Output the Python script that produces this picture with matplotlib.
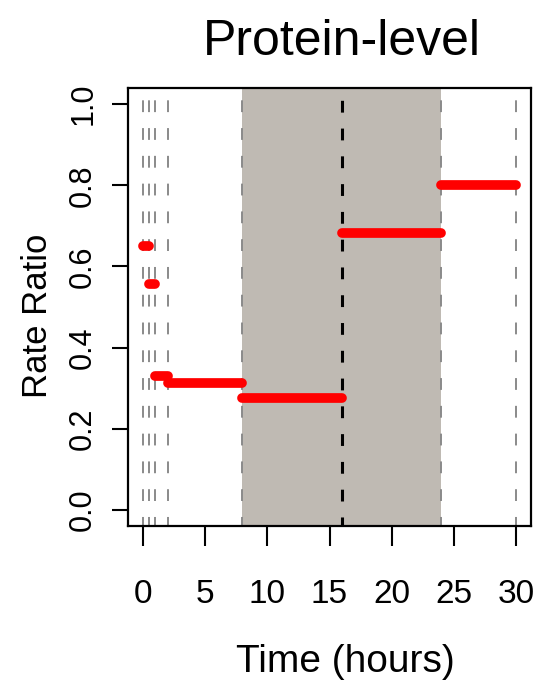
import matplotlib
matplotlib.use("Agg")
import matplotlib.pyplot as plt

# Intervalos de tiempo (horas) y cociente de tasas en cada uno
seg_inicio = [0, 0.5, 1, 2, 8, 16, 24]
seg_fin = [0.5, 1, 2, 8, 16, 24, 30]
ratio = [0.651, 0.557, 0.331, 0.312, 0.275, 0.683, 0.800]

# Lineas verticales de referencia y zona sombreada
cortes_gris = [0, 0.5, 1, 2, 8, 24, 30]
corte_negro = 16
sombra = (8, 24)

x_ticks = [0, 5, 10, 15, 20, 25, 30]
y_ticks = [0.0, 0.2, 0.4, 0.6, 0.8, 1.0]

plt.rcParams['lines.scale_dashes'] = False
fuente = ['Liberation Sans', 'DejaVu Sans']

fig = plt.figure(figsize=(5.34, 6.86), dpi=100)
ax = fig.add_axes([128 / 534, 1 - 526 / 686, (531 - 128) / 534, (526 - 88) / 686])

ax.axvspan(sombra[0], sombra[1], color='#bfbab3', lw=0, zorder=0)
for x in cortes_gris:
    ax.axvline(x, color='#8a8a8a', lw=1.4, ls=(2, (8.5, 11.5)), zorder=1)
ax.axvline(corte_negro, color='black', lw=2.2, ls=(2, (8.5, 11.5)), zorder=1)

for x0, x1, r in zip(seg_inicio, seg_fin, ratio):
    ax.plot([x0, x1], [r, r], color='red', lw=7, solid_capstyle='round', zorder=3)

ax.set_xlim(-1.2, 31.2)
ax.set_ylim(-0.04, 1.04)
ax.set_xticks(x_ticks)
ax.set_yticks(y_ticks)
ax.set_xticklabels([str(v) for v in x_ticks], family=fuente, fontsize=24)
ax.set_yticklabels([f"{v:.1f}" for v in y_ticks], family=fuente, fontsize=22,
                   rotation=90, va='center')
ax.tick_params(axis='x', length=14.5, width=1.5, pad=24, direction='out')
ax.tick_params(axis='y', length=11.5, width=1.5, pad=10, direction='out')

for s in ax.spines.values():
    s.set_linewidth(1.6)

ax.set_title("Protein-level", family=fuente, fontsize=36, pad=24, x=0.53)
ax.set_xlabel("Time (hours)", family=fuente, fontsize=28, labelpad=24, x=0.54)
ax.set_ylabel("Rate Ratio", family=fuente, fontsize=25, labelpad=10, y=0.48)

plt.savefig('out.png', dpi=100)
